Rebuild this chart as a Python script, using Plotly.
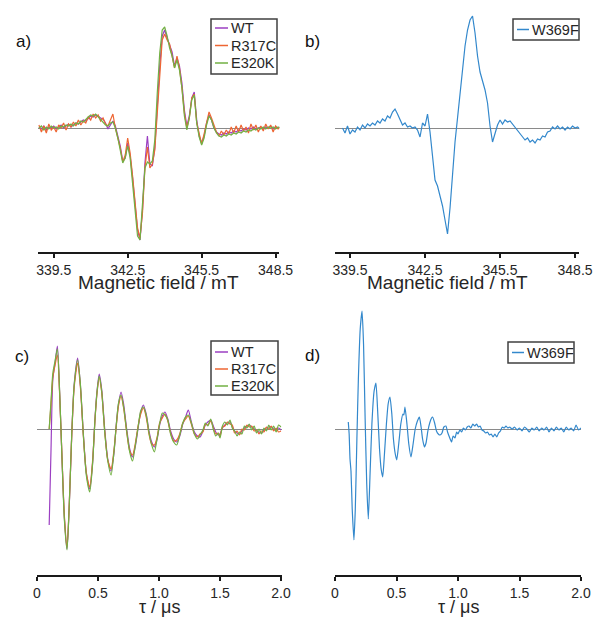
import plotly.graph_objects as go

# ---------------- data ----------------
# Panel a: cw-EPR spectra (field grid 338.9 .. 348.7 mT, step 0.1)
field_a_start = 338.9
field_step = 0.1
wt_a = [0.01, -0.01, 0.02, -0.02, 0.01, 0.00, 0.02, -0.01, 0.01, 0.03,
        0.00, 0.02, 0.04, 0.01, 0.03, 0.05, 0.04, 0.06, 0.08, 0.07,
        0.10, 0.12, 0.11, 0.13, 0.12, 0.10, 0.09, 0.05, -0.01, 0.03,
        0.07, 0.02, -0.08, -0.18, -0.33, -0.30, -0.15, -0.28, -0.50, -0.78,
        -1.02, -1.12, -0.82, -0.35, -0.08, -0.36, -0.38, -0.20, 0.22, 0.62,
        0.92, 0.98, 0.90, 0.82, 0.76, 0.62, 0.70, 0.62, 0.45, 0.18,
        0.02, 0.12, 0.30, 0.36, 0.08, -0.08, -0.15, -0.08, 0.05, 0.13,
        0.08, 0.00, -0.04, -0.06, -0.07, -0.05, -0.06, -0.04, -0.05, -0.03,
        -0.04, -0.02, -0.03, -0.01, -0.02, 0.00, -0.01, 0.01, -0.01, 0.00,
        0.01, -0.01, 0.01, 0.00, 0.02, -0.01, 0.01, 0.00, 0.01]
r317c_a = [0.03, -0.04, 0.02, -0.05, 0.04, -0.02, 0.01, -0.04, 0.03, 0.00,
           0.05, -0.02, 0.04, 0.01, 0.06, 0.02, 0.08, 0.03, 0.07, 0.05,
           0.11, 0.08, 0.14, 0.10, 0.13, 0.07, 0.10, 0.04, 0.02, 0.08,
           0.14, 0.00, -0.10, -0.20, -0.34, -0.27, -0.10, -0.25, -0.48, -0.74,
           -1.00, -1.10, -0.85, -0.40, -0.19, -0.40, -0.36, -0.22, 0.18, 0.58,
           0.88, 0.94, 0.88, 0.84, 0.70, 0.60, 0.72, 0.60, 0.40, 0.15,
           0.00, 0.10, 0.30, 0.34, 0.05, -0.07, -0.16, -0.06, 0.04, 0.16,
           0.10, 0.02, -0.04, -0.08, -0.03, -0.07, -0.02, -0.06, 0.01, -0.05,
           0.02, -0.04, 0.03, -0.03, 0.01, -0.05, 0.04, -0.02, 0.03, -0.04,
           0.02, -0.03, 0.04, -0.01, 0.03, -0.04, 0.02, -0.01, 0.01]
e320k_a = [0.00, 0.02, -0.02, 0.01, -0.01, 0.02, 0.00, 0.01, -0.01, 0.02,
           0.01, 0.03, 0.02, 0.04, 0.02, 0.05, 0.04, 0.07, 0.06, 0.09,
           0.11, 0.13, 0.12, 0.14, 0.11, 0.09, 0.06, 0.03, 0.02, 0.05,
           0.06, 0.00, -0.10, -0.22, -0.35, -0.30, -0.18, -0.30, -0.55, -0.85,
           -1.08, -1.12, -0.75, -0.40, -0.34, -0.36, -0.33, -0.12, 0.35, 0.75,
           0.98, 1.01, 0.92, 0.80, 0.72, 0.60, 0.68, 0.58, 0.40, 0.12,
           -0.02, 0.10, 0.28, 0.33, 0.05, -0.09, -0.17, -0.10, 0.03, 0.12,
           0.08, 0.00, -0.05, -0.08, -0.09, -0.07, -0.08, -0.06, -0.07, -0.05,
           -0.06, -0.04, -0.05, -0.03, -0.04, -0.02, -0.03, -0.01, -0.02, 0.00,
           -0.01, 0.01, -0.01, 0.01, 0.00, 0.01, -0.01, 0.01, 0.00]

# Panel b: W369F cw-EPR (field grid 339.2 .. 348.7 mT, step 0.1)
field_b_start = 339.2
w369f_b = [0.00, -0.05, 0.02, -0.06, -0.02, -0.04, 0.01, -0.02, 0.03, 0.00,
           0.04, 0.02, 0.05, 0.03, 0.07, 0.05, 0.09, 0.07, 0.12, 0.10,
           0.16, 0.19, 0.14, 0.09, 0.03, 0.05, 0.01, 0.02, 0.00, 0.01,
           -0.02, -0.09, 0.05, 0.02, 0.14, -0.04, -0.32, -0.52, -0.58, -0.68,
           -0.78, -0.92, -1.06, -0.80, -0.45, -0.14, 0.10, 0.35, 0.58, 0.82,
           0.98, 1.08, 1.12, 0.95, 0.72, 0.56, 0.47, 0.38, 0.25, 0.02,
           -0.14, -0.05, 0.03, 0.08, 0.04, 0.08, 0.06, 0.07, 0.04, 0.01,
           -0.03, -0.06, -0.09, -0.12, -0.10, -0.14, -0.12, -0.15, -0.11, -0.12,
           -0.08, -0.09, -0.04, -0.03, 0.01, -0.01, 0.02, -0.01, 0.01, -0.02,
           0.01, -0.01, 0.02, 0.00, 0.01, -0.01]

# Panel c: DEER traces (tau in us)
tau_c = [0.100, 0.115, 0.130, 0.148, 0.167, 0.186, 0.205, 0.225, 0.246, 0.265,
         0.285, 0.305, 0.333, 0.355, 0.380, 0.405, 0.432, 0.455, 0.475, 0.492,
         0.510, 0.530, 0.555, 0.580, 0.607, 0.630, 0.650, 0.668, 0.689, 0.710,
         0.735, 0.760, 0.783, 0.805, 0.830, 0.850, 0.872, 0.895, 0.918, 0.940,
         0.962, 0.985, 1.005, 1.027, 1.049, 1.072, 1.095, 1.120, 1.145, 1.170,
         1.195, 1.218, 1.240, 1.265, 1.290, 1.315, 1.336, 1.360, 1.380, 1.400,
         1.424, 1.445, 1.465, 1.485, 1.500, 1.520, 1.540, 1.560, 1.582, 1.600,
         1.620, 1.640, 1.660, 1.680, 1.700, 1.720, 1.740, 1.760, 1.780, 1.800,
         1.820, 1.840, 1.860, 1.880, 1.900, 1.920, 1.940, 1.960, 1.980, 2.000]
wt_c = [-0.96, -0.20, 0.50, 0.66, 0.83, 0.35, -0.30, -0.90, -1.20, -0.75,
        -0.05, 0.45, 0.71, 0.45, -0.05, -0.45, -0.60, -0.35, 0.10, 0.38,
        0.55, 0.40, 0.00, -0.30, -0.42, -0.25, 0.05, 0.25, 0.37, 0.25,
        0.00, -0.20, -0.28, -0.18, 0.02, 0.17, 0.24, 0.15, -0.02, -0.13,
        -0.18, -0.10, 0.04, 0.13, 0.17, 0.10, -0.02, -0.10, -0.13, -0.07,
        0.05, 0.12, 0.19, 0.07, -0.03, -0.07, -0.08, -0.02, 0.04, 0.07,
        0.09, 0.03, -0.03, -0.06, -0.05, 0.01, 0.04, 0.06, 0.07, 0.03,
        -0.02, -0.04, -0.05, -0.02, 0.01, 0.03, 0.04, 0.02, 0.00, -0.02,
        -0.03, -0.04, -0.01, 0.01, 0.02, 0.02, 0.00, -0.01, 0.01, -0.01]
r317c_c = [0.00, 0.25, 0.52, 0.64, 0.74, 0.33, -0.28, -0.88, -1.18, -0.73,
           -0.06, 0.42, 0.66, 0.43, -0.07, -0.44, -0.58, -0.33, 0.08, 0.36,
           0.51, 0.37, -0.02, -0.31, -0.40, -0.22, 0.03, 0.23, 0.33, 0.21,
           -0.03, -0.22, -0.26, -0.15, 0.04, 0.15, 0.21, 0.12, -0.05, -0.15,
           -0.16, -0.08, 0.06, 0.11, 0.15, 0.08, -0.04, -0.12, -0.11, -0.05,
           0.06, 0.10, 0.13, 0.05, -0.05, -0.08, -0.05, -0.03, 0.05, 0.04,
           0.08, 0.01, -0.05, -0.04, -0.07, 0.02, 0.03, 0.07, 0.05, 0.04,
           -0.04, -0.02, -0.06, 0.00, -0.01, 0.04, 0.02, 0.03, -0.02, -0.01,
           -0.05, -0.02, -0.03, 0.02, 0.00, 0.03, -0.02, 0.01, -0.03, -0.02]
e320k_c = [0.00, 0.28, 0.56, 0.68, 0.80, 0.36, -0.30, -0.92, -1.21, -0.74,
           -0.04, 0.44, 0.69, 0.46, -0.06, -0.47, -0.63, -0.36, 0.09, 0.37,
           0.53, 0.38, -0.03, -0.32, -0.46, -0.24, 0.04, 0.26, 0.34, 0.22,
           -0.02, -0.23, -0.32, -0.17, 0.03, 0.18, 0.22, 0.14, -0.04, -0.16,
           -0.23, -0.09, 0.05, 0.16, 0.14, 0.09, -0.05, -0.13, -0.16, -0.06,
           0.06, 0.12, 0.14, 0.06, -0.05, -0.10, -0.06, -0.01, 0.06, 0.03,
           0.10, 0.00, -0.07, -0.04, -0.09, 0.03, 0.07, 0.04, 0.09, 0.01,
           -0.02, -0.07, -0.03, -0.05, 0.03, 0.01, 0.05, -0.01, 0.03, -0.04,
           0.00, -0.05, 0.01, -0.02, 0.04, -0.01, 0.03, -0.03, 0.04, 0.02]

# Panel d: W369F DEER trace
tau_d = [0.108, 0.115, 0.122, 0.130, 0.140, 0.154, 0.165, 0.178, 0.190, 0.205,
         0.220, 0.232, 0.245, 0.258, 0.271, 0.285, 0.300, 0.318, 0.333, 0.348,
         0.362, 0.375, 0.388, 0.402, 0.418, 0.432, 0.447, 0.462, 0.475, 0.490,
         0.502, 0.518, 0.535, 0.552, 0.560, 0.569, 0.585, 0.600, 0.618, 0.635,
         0.652, 0.670, 0.686, 0.700, 0.712, 0.727, 0.740, 0.755, 0.770, 0.785,
         0.794, 0.810, 0.825, 0.840, 0.854, 0.870, 0.885, 0.902, 0.915, 0.930,
         0.948, 0.960, 0.975, 0.989, 1.000, 1.015, 1.030, 1.043, 1.060, 1.075,
         1.090, 1.105, 1.120, 1.135, 1.152, 1.165, 1.180, 1.195, 1.210, 1.225,
         1.240, 1.255, 1.270, 1.285, 1.300, 1.315, 1.330, 1.345, 1.360, 1.375,
         1.390, 1.405, 1.420, 1.44, 1.46, 1.48, 1.50, 1.52, 1.54, 1.56,
         1.58, 1.60, 1.62, 1.64, 1.66, 1.68, 1.70, 1.72, 1.74, 1.76,
         1.78, 1.80, 1.82, 1.84, 1.86, 1.88, 1.90, 1.92, 1.94, 1.96,
         1.98, 2.00]
w369f_d = [0.07, -0.05, -0.30, -0.42, -0.80, -1.11, -0.80, -0.10, 0.50, 1.00,
           1.18, 0.85, 0.10, -0.55, -0.90, -0.45, 0.05, 0.38, 0.46, 0.15,
           -0.20, -0.40, -0.48, -0.25, 0.05, 0.25, 0.32, 0.15, -0.10, -0.25,
           -0.31, -0.15, 0.05, 0.15, 0.14, 0.22, 0.05, -0.15, -0.28, -0.15,
           0.00, 0.08, 0.12, 0.02, -0.10, -0.18, -0.14, -0.02, 0.06, 0.11,
           0.12, 0.06, -0.02, -0.05, -0.06, -0.04, 0.02, 0.03, -0.03, -0.08,
           -0.13, -0.07, -0.09, -0.03, -0.05, -0.01, -0.03, 0.01, -0.01, 0.02,
           0.03, 0.01, 0.05, 0.03, 0.05, 0.02, 0.03, -0.01, -0.02, -0.04,
           -0.03, -0.06, -0.05, -0.08, -0.05, -0.08, -0.04, -0.02, 0.02, 0.01,
           0.03, 0.01, 0.02, 0.00, 0.02, -0.01, 0.01, -0.02, 0.02, 0.00,
           -0.03, 0.01, -0.01, 0.02, -0.02, 0.01, -0.01, 0.02, -0.03, 0.01,
           -0.02, 0.02, -0.01, 0.01, -0.03, 0.02, -0.01, 0.01, -0.02, 0.04,
           -0.01, 0.01]

field_ticks = [339.5, 342.5, 345.5, 348.5]
field_ticktext = ["339.5", "342.5", "345.5", "348.5"]
tau_ticks = [0, 0.5, 1.0, 1.5, 2.0]
tau_ticktext = ["0", "0.5", "1.0", "1.5", "2.0"]

names_abc = ["WT", "R317C", "E320K"]
colors_abc = ["#9B3FC2", "#EE6633", "#72B043"]
name_mut = "W369F"
color_mut = "#3388CC"

# ---------------- layout helpers ----------------
W, H = 597, 618
FONT = "Liberation Sans, Arial, sans-serif"
TXT = "#262626"


def fx(p):
    return p / W


def fy(p):
    return 1 - p / H


x_a = [round(field_a_start + field_step * i, 2) for i in range(len(wt_a))]
x_b = [round(field_b_start + field_step * i, 2) for i in range(len(w369f_b))]

fig = go.Figure()
LW = 1.2
for name, col, ys in zip(names_abc, colors_abc, [wt_a, r317c_a, e320k_a]):
    fig.add_trace(go.Scatter(x=x_a, y=ys, mode="lines", name=name,
                             line=dict(color=col, width=LW),
                             xaxis="x", yaxis="y", showlegend=False))
fig.add_trace(go.Scatter(x=x_b, y=w369f_b, mode="lines", name=name_mut,
                         line=dict(color=color_mut, width=LW),
                         xaxis="x2", yaxis="y2", showlegend=False))
for name, col, ys in zip(names_abc, colors_abc, [wt_c, r317c_c, e320k_c]):
    fig.add_trace(go.Scatter(x=tau_c, y=ys, mode="lines", name=name,
                             line=dict(color=col, width=LW, shape="spline", smoothing=0.7),
                             xaxis="x3", yaxis="y3", showlegend=False))
fig.add_trace(go.Scatter(x=tau_d, y=w369f_d, mode="lines", name=name_mut,
                         line=dict(color=color_mut, width=LW, shape="spline", smoothing=0.5),
                         xaxis="x4", yaxis="y4", showlegend=False))

AX = "#1a1a1a"


def xaxis_style(dom, rng, tv, tt, anchor):
    return dict(domain=[fx(dom[0]), fx(dom[1])], range=rng, anchor=anchor,
                showline=True, linecolor=AX, linewidth=2, mirror=False,
                ticks="outside", ticklen=4, tickwidth=2, tickcolor=AX,
                tickvals=tv, ticktext=tt, showgrid=False, zeroline=False,
                tickfont=dict(family=FONT, size=14, color=TXT))


def yaxis_style(dom, rng, anchor):
    return dict(domain=[fy(dom[1]), fy(dom[0])], range=rng, anchor=anchor,
                showline=False, showticklabels=False, ticks="",
                showgrid=False, zeroline=True, zerolinecolor="#8a8a8a",
                zerolinewidth=1)


layout = dict(
    autosize=True, height=H, margin=dict(l=0, r=0, t=0, b=0, autoexpand=False),
    paper_bgcolor="white", plot_bgcolor="white", showlegend=False,
    xaxis=xaxis_style([37.7, 279.3], [338.85, 348.65], field_ticks, field_ticktext, "y"),
    yaxis=yaxis_style([10, 252], [-1.24, 1.18], "x"),
    xaxis2=xaxis_style([335, 579.3], [338.9, 348.67], field_ticks, field_ticktext, "y2"),
    yaxis2=yaxis_style([10, 252], [-1.24, 1.18], "x2"),
    xaxis3=xaxis_style([37, 281.5], [0, 2.004], tau_ticks, tau_ticktext, "y3"),
    yaxis3=yaxis_style([300, 575], [-1.46, 1.29], "x3"),
    xaxis4=xaxis_style([335, 581], [0, 2.0], tau_ticks, tau_ticktext, "y4"),
    yaxis4=yaxis_style([300, 575], [-1.46, 1.29], "x4"),
)
fig.update_layout(**layout)

ann = []
shapes = []


def text(x, y, s, size, color=TXT, xanchor="center"):
    ann.append(dict(x=fx(x), y=fy(y), xref="paper", yref="paper", text=s,
                    showarrow=False, xanchor=xanchor, yanchor="middle",
                    font=dict(family=FONT, size=size, color=color)))


# axis titles
text(158, 283, "Magnetic field / mT", 19)
text(447, 283, "Magnetic field / mT", 19)
text(159, 607, "τ / μs", 18)
text(458, 607, "τ / μs", 18)
# panel labels
text(23, 42, "a)", 17, "#111111")
text(312, 42, "b)", 17, "#111111")
text(22, 356, "c)", 17, "#111111")
text(312, 355, "d)", 17, "#111111")


def legend_box(x0, y0, x1, y1, entries, lx0, lx1):
    shapes.append(dict(type="rect", xref="paper", yref="paper",
                       x0=fx(x0), x1=fx(x1), y0=fy(y1), y1=fy(y0),
                       line=dict(color="#404040", width=1.5), fillcolor="white"))
    for (nm, col, yy) in entries:
        shapes.append(dict(type="line", xref="paper", yref="paper",
                           x0=fx(lx0), x1=fx(lx1), y0=fy(yy), y1=fy(yy),
                           line=dict(color=col, width=1.5)))
        text(lx1 + 1, yy, nm, 14.5, TXT, "left")


legend_box(211, 19, 277, 74, list(zip(names_abc, colors_abc, [28, 45.5, 63])), 215, 228)
legend_box(513, 19, 579, 40, [(name_mut, color_mut, 29.5)], 517, 529)
legend_box(211, 341, 278, 395, list(zip(names_abc, colors_abc, [352, 369, 386])), 215, 228)
legend_box(508, 342, 574, 363, [(name_mut, color_mut, 352.5)], 512, 524)

fig.update_layout(annotations=ann, shapes=shapes)
fig.write_html("out.html", default_width="100%", default_height="618px",
               config={"displayModeBar": False},
               post_script="document.body.style.margin='0';document.body.style.overflow='hidden';"
                           "window.dispatchEvent(new Event('resize'));")
